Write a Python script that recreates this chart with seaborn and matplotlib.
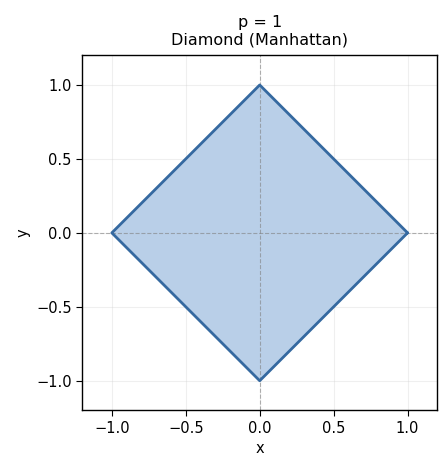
import matplotlib
matplotlib.use("Agg")
import matplotlib.pyplot as plt
import seaborn as sns
import pandas as pd

x_vals = [1.0, 0.0, -1.0, 0.0, 1.0]
y_vals = [0.0, 1.0, 0.0, -1.0, 0.0]
ticks = [-1.0, -0.5, 0.0, 0.5, 1.0]

df = pd.DataFrame({"x": x_vals, "y": y_vals, "order": range(len(x_vals))})

sns.set_style("white")
plt.rcParams['font.family'] = ['DejaVu Sans']
plt.rcParams['text.color'] = 'black'
plt.rcParams['axes.labelcolor'] = 'black'
plt.rcParams['xtick.color'] = 'black'
plt.rcParams['ytick.color'] = 'black'
fig, ax = plt.subplots(figsize=(4.47, 4.69), dpi=100)
fig.subplots_adjust(left=0.184, right=0.978, top=0.883, bottom=0.124)

ax.fill(df["x"], df["y"], color="#b9cfe8", zorder=1)
sns.lineplot(data=df, x="x", y="y", sort=False, estimator=None, color="#3569a0", linewidth=2, ax=ax, zorder=3)
ax.axhline(0, color="gray", linestyle="--", linewidth=0.8, alpha=0.6, zorder=2)
ax.axvline(0, color="gray", linestyle="--", linewidth=0.8, alpha=0.6, zorder=2)

ax.set_xlim(-1.2, 1.2)
ax.set_ylim(-1.2, 1.2)
ax.set_xticks(ticks)
ax.set_yticks(ticks)
ax.set_aspect("equal")
ax.grid(True, alpha=0.3)
ax.tick_params(axis="both", which="both", length=4, width=0.8, direction="out", bottom=True, left=True, labelsize=10.5, colors="black")
for s in ax.spines.values():
    s.set_color("black")
    s.set_linewidth(1.0)
ax.set_xlabel("x", fontsize=10.5, color="black")
ax.set_ylabel("y", fontsize=10.5, color="black")
ax.set_title("p = 1\nDiamond (Manhattan)", fontsize=11.5, color="black", pad=8)

fig.savefig("out.png", dpi=100)
